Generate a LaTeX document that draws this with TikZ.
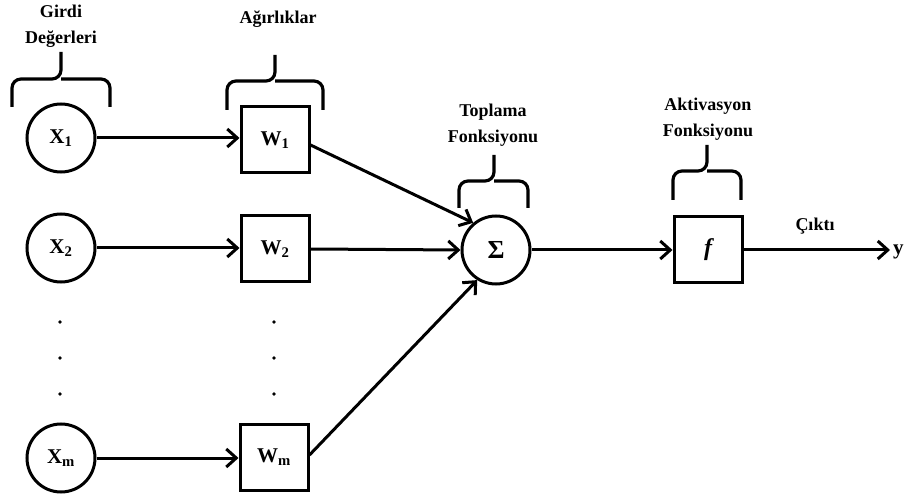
\documentclass[tikz,border=0pt]{standalone}
\usepackage{fontspec}
\setmainfont{Liberation Serif}
\usetikzlibrary{arrows.meta}
\tikzset{
  ln/.style={line width=3pt},
  inp/.style={ln, draw, circle, minimum size=68pt, inner sep=0pt, font=\fontsize{21}{24}\selectfont\bfseries},
  wbox/.style={ln, draw, rectangle, minimum width=68pt, minimum height=66pt, inner sep=0pt, font=\fontsize{21}{24}\selectfont\bfseries},
  arr/.style={ln, -{Straight Barb[length=10pt,width=18pt,line width=3pt]}},
  lbl/.style={font=\fontsize{18}{26}\selectfont\bfseries, align=center, inner sep=0pt},
  brace/.style={line width=3.2pt, rounded corners=9pt},
  dot/.style={circle, fill=black, inner sep=0pt, minimum size=3.6pt}
}
\begin{document}
\begin{tikzpicture}[x=1pt,y=-1pt]
\useasboundingbox (0,0) rectangle (906,497);
% inputs
\node[inp] (x1) at (61,138) {X\textsubscript{1}};
\node[inp] (x2) at (61,248) {X\textsubscript{2}};
\node[inp] (xm) at (61,458) {X\textsubscript{m}};
% weights
\node[wbox] (w1) at (275,140) {W\textsubscript{1}};
\node[wbox] (w2) at (275,249) {W\textsubscript{2}};
\node[wbox] (wm) at (274,457) {W\textsubscript{m}};
% sum
\node[inp, font=\fontsize{26}{28}\selectfont\bfseries] (s) at (496,250) {Σ};
% activation
\node[wbox, font=\fontsize{24}{26}\selectfont\bfseries\itshape] (f) at (708,250) {f};
\coordinate (yend) at (890,250);
\node[font=\fontsize{21}{24}\selectfont\bfseries, anchor=west, inner sep=0pt] (y) at (893,252) {y};
% dots
\node[dot] (d1) at (60,322) {};
\node[dot] (d2) at (60,358) {};
\node[dot] (d3) at (60,394) {};
\node[dot] (e1) at (274,322) {};
\node[dot] (e2) at (274,358) {};
\node[dot] (e3) at (274,394) {};
% arrows
\draw[arr] (x1) -- (w1.west |- x1);
\draw[arr] (x2) -- (w2.west |- x2);
\draw[arr] (xm) -- (wm.west |- xm);
\draw[arr] (w1.east) ++(0,5) coordinate (w1o) -- (s.130);
\draw[arr] (w2.east) -- (s.west);
\draw[arr] (wm.east) ++(0,-2) coordinate (wmo) -- (s.238);
\draw[arr] (s.east) -- (f.west);
\draw[arr] (f.east) -- (yend);
% labels
\node[lbl] (l1) at (61,26) {Girdi\\Değerleri};
\node[lbl] (l2) at (278,19) {Ağırlıklar};
\node[lbl] (l3) at (493,125) {Toplama\\Fonksiyonu};
\node[lbl] (l4) at (708,119) {Aktivasyon\\Fonksiyonu};
\node[lbl] (l5) at (815,226) {Çıktı};
% braces
\draw[brace] (12,107) -- (12,79) -- (61,79) -- (61,52);
\draw[brace] (110,107) -- (110,79) -- (61,79);
\draw[brace] (227,110) -- (227,81) -- (275,81) -- (275,55);
\draw[brace] (323,110) -- (323,81) -- (275,81);
\draw[brace] (459,208) -- (459,181) -- (494,181) -- (494,155);
\draw[brace] (528,208) -- (528,181) -- (494,181);
\draw[brace] (673,200) -- (673,171) -- (707,171) -- (707,145);
\draw[brace] (741,200) -- (741,171) -- (707,171);
\end{tikzpicture}
\end{document}
